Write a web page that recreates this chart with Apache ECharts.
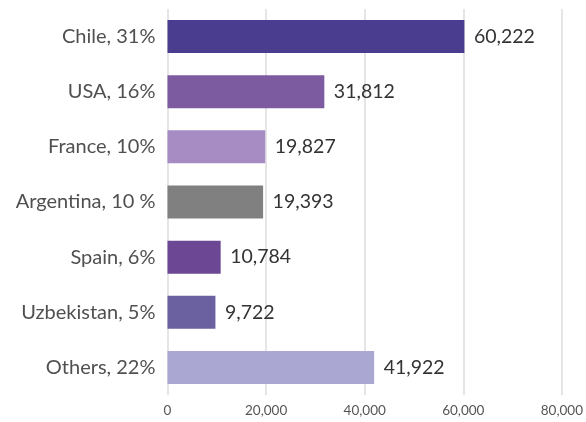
<!DOCTYPE html>
<html><head><meta charset="utf-8">
<script src="https://cdn.jsdelivr.net/npm/echarts@6/dist/echarts.min.js"></script>
<style>html,body{margin:0;padding:0;background:#fff}#c{width:586px;height:422px}</style>
</head><body><div id="c"></div>
<script>
const categories = ["Chile, 31%", "USA, 16%", "France, 10%", "Argentina, 10 %", "Spain, 6%", "Uzbekistan, 5%", "Others, 22%"];
const values = [60222, 31812, 19827, 19393, 10784, 9722, 41922];
const barColors = ["#4a3c8f", "#7d5ba0", "#a68cc2", "#808080", "#6b4794", "#6c61a0", "#aaa8d3"];
const xTicks = [0, 20000, 40000, 60000, 80000];

const chart = echarts.init(document.getElementById('c'));
const fmt = v => v.toLocaleString('en-US');
chart.setOption({
  animation: false,
  grid: { left: 167.5, right: 23, top: 9, bottom: 27 },
  xAxis: {
    type: 'value', min: xTicks[0], max: xTicks[xTicks.length - 1], interval: 20000,
    axisLine: { show: false }, axisTick: { show: false },
    splitLine: { lineStyle: { color: '#dcdcdc', width: 1.5 } },
    axisLabel: { formatter: fmt, color: '#555', fontSize: 13.5, fontFamily: 'Lato', margin: 9 }
  },
  yAxis: {
    type: 'category', data: categories, inverse: true,
    axisLine: { show: false }, axisTick: { show: false },
    axisLabel: { color: '#505050', fontSize: 20, fontFamily: 'Lato', margin: 12 }
  },
  series: [{
    type: 'bar', barWidth: 33,
    data: values.map((v, i) => ({ value: v, itemStyle: { color: barColors[i] } })),
    label: { show: true, position: 'right', distance: 9.5, formatter: p => fmt(p.value), color: '#333', fontSize: 19.5, fontFamily: 'Lato' }
  }]
});
</script></body></html>
